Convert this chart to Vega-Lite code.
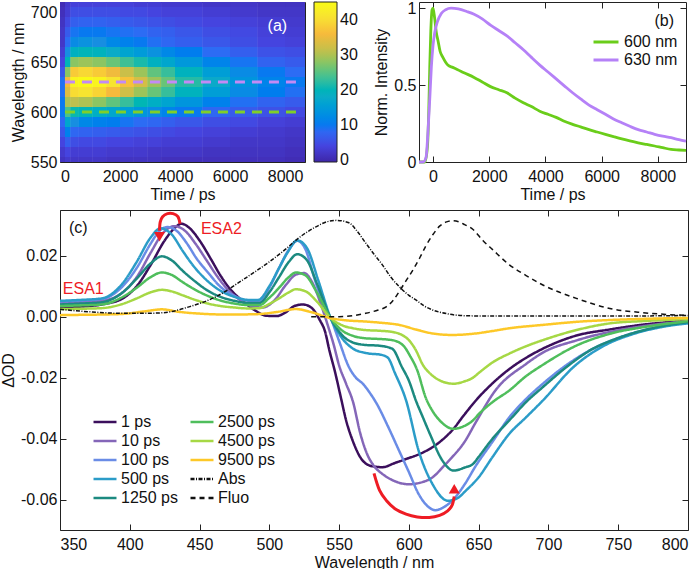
{
"$schema": "https://vega.github.io/schema/vega-lite/v6.json",
"padding": {"left": 0, "top": -1, "right": 2, "bottom": 2},
"background": "white",
"config": {
 "font": "Liberation Sans",
 "view": {"stroke": "#222", "strokeWidth": 1},
 "axis": {"domain": false, "grid": false, "tickSize": -6, "tickColor": "#222", "tickWidth": 1, "labelFont": "Liberation Sans", "labelFontSize": 16, "labelColor": "#111", "titleFont": "Liberation Sans", "titleFontSize": 16, "titleFontWeight": "normal", "titleColor": "#111"},
 "axisX": {"labelPadding": 12},
 "axisY": {"labelPadding": 9},
 "legend": {"labelFont": "Liberation Sans", "labelFontSize": 16, "labelColor": "#111"},
 "text": {"font": "Liberation Sans"}
},
"resolve": {"scale": {"color": "independent", "fill": "independent", "strokeDash": "independent", "shape": "independent"}, "legend": {"color": "independent", "fill": "independent", "strokeDash": "independent", "shape": "independent"}},
"spacing": 3,
"vconcat": [
 {"hconcat": [
  {"width": 245, "height": 160,
   "data": {"values": [
{"t0":-180,"t1":0,"w0":550,"w1":555,"v":1.5},{"t0":0,"t1":200,"w0":550,"w1":555,"v":2.5},{"t0":200,"t1":500,"w0":550,"w1":555,"v":2},{"t0":500,"t1":1000,"w0":550,"w1":555,"v":2},{"t0":1000,"t1":1500,"w0":550,"w1":555,"v":2},{"t0":1500,"t1":2000,"w0":550,"w1":555,"v":1.5},{"t0":2000,"t1":2500,"w0":550,"w1":555,"v":1.5},{"t0":2500,"t1":3000,"w0":550,"w1":555,"v":1.5},{"t0":3000,"t1":3500,"w0":550,"w1":555,"v":1.5},{"t0":3500,"t1":4000,"w0":550,"w1":555,"v":1},{"t0":4000,"t1":5000,"w0":550,"w1":555,"v":1},{"t0":5000,"t1":6000,"w0":550,"w1":555,"v":1},{"t0":6000,"t1":7000,"w0":550,"w1":555,"v":1},{"t0":7000,"t1":8000,"w0":550,"w1":555,"v":1},{"t0":8000,"t1":8725,"w0":550,"w1":555,"v":0.5},
{"t0":-180,"t1":0,"w0":555,"w1":565,"v":2.5},{"t0":0,"t1":200,"w0":555,"w1":565,"v":4},{"t0":200,"t1":500,"w0":555,"w1":565,"v":3},{"t0":500,"t1":1000,"w0":555,"w1":565,"v":3},{"t0":1000,"t1":1500,"w0":555,"w1":565,"v":3},{"t0":1500,"t1":2000,"w0":555,"w1":565,"v":2.5},{"t0":2000,"t1":2500,"w0":555,"w1":565,"v":2.5},{"t0":2500,"t1":3000,"w0":555,"w1":565,"v":2.5},{"t0":3000,"t1":3500,"w0":555,"w1":565,"v":2},{"t0":3500,"t1":4000,"w0":555,"w1":565,"v":2},{"t0":4000,"t1":5000,"w0":555,"w1":565,"v":2},{"t0":5000,"t1":6000,"w0":555,"w1":565,"v":1.5},{"t0":6000,"t1":7000,"w0":555,"w1":565,"v":1.5},{"t0":7000,"t1":8000,"w0":555,"w1":565,"v":1.5},{"t0":8000,"t1":8725,"w0":555,"w1":565,"v":1},
{"t0":-180,"t1":0,"w0":565,"w1":575,"v":4},{"t0":0,"t1":200,"w0":565,"w1":575,"v":7},{"t0":200,"t1":500,"w0":565,"w1":575,"v":5},{"t0":500,"t1":1000,"w0":565,"w1":575,"v":4.5},{"t0":1000,"t1":1500,"w0":565,"w1":575,"v":4.5},{"t0":1500,"t1":2000,"w0":565,"w1":575,"v":4},{"t0":2000,"t1":2500,"w0":565,"w1":575,"v":4},{"t0":2500,"t1":3000,"w0":565,"w1":575,"v":3.5},{"t0":3000,"t1":3500,"w0":565,"w1":575,"v":3.5},{"t0":3500,"t1":4000,"w0":565,"w1":575,"v":3},{"t0":4000,"t1":5000,"w0":565,"w1":575,"v":3},{"t0":5000,"t1":6000,"w0":565,"w1":575,"v":2.5},{"t0":6000,"t1":7000,"w0":565,"w1":575,"v":2},{"t0":7000,"t1":8000,"w0":565,"w1":575,"v":2},{"t0":8000,"t1":8725,"w0":565,"w1":575,"v":1.5},
{"t0":-180,"t1":0,"w0":575,"w1":585,"v":6},{"t0":0,"t1":200,"w0":575,"w1":585,"v":11},{"t0":200,"t1":500,"w0":575,"w1":585,"v":8},{"t0":500,"t1":1000,"w0":575,"w1":585,"v":7.5},{"t0":1000,"t1":1500,"w0":575,"w1":585,"v":7},{"t0":1500,"t1":2000,"w0":575,"w1":585,"v":6.5},{"t0":2000,"t1":2500,"w0":575,"w1":585,"v":6},{"t0":2500,"t1":3000,"w0":575,"w1":585,"v":5.5},{"t0":3000,"t1":3500,"w0":575,"w1":585,"v":5},{"t0":3500,"t1":4000,"w0":575,"w1":585,"v":4.5},{"t0":4000,"t1":5000,"w0":575,"w1":585,"v":4},{"t0":5000,"t1":6000,"w0":575,"w1":585,"v":3.5},{"t0":6000,"t1":7000,"w0":575,"w1":585,"v":3},{"t0":7000,"t1":8000,"w0":575,"w1":585,"v":2.5},{"t0":8000,"t1":8725,"w0":575,"w1":585,"v":2},
{"t0":-180,"t1":0,"w0":585,"w1":595,"v":8},{"t0":0,"t1":200,"w0":585,"w1":595,"v":17},{"t0":200,"t1":500,"w0":585,"w1":595,"v":13},{"t0":500,"t1":1000,"w0":585,"w1":595,"v":12},{"t0":1000,"t1":1500,"w0":585,"w1":595,"v":11},{"t0":1500,"t1":2000,"w0":585,"w1":595,"v":10.5},{"t0":2000,"t1":2500,"w0":585,"w1":595,"v":9.5},{"t0":2500,"t1":3000,"w0":585,"w1":595,"v":8.5},{"t0":3000,"t1":3500,"w0":585,"w1":595,"v":8},{"t0":3500,"t1":4000,"w0":585,"w1":595,"v":7},{"t0":4000,"t1":5000,"w0":585,"w1":595,"v":6},{"t0":5000,"t1":6000,"w0":585,"w1":595,"v":5},{"t0":6000,"t1":7000,"w0":585,"w1":595,"v":4.5},{"t0":7000,"t1":8000,"w0":585,"w1":595,"v":3.5},{"t0":8000,"t1":8725,"w0":585,"w1":595,"v":3},
{"t0":-180,"t1":0,"w0":595,"w1":605,"v":10},{"t0":0,"t1":200,"w0":595,"w1":605,"v":24},{"t0":200,"t1":500,"w0":595,"w1":605,"v":21},{"t0":500,"t1":1000,"w0":595,"w1":605,"v":20},{"t0":1000,"t1":1500,"w0":595,"w1":605,"v":18.5},{"t0":1500,"t1":2000,"w0":595,"w1":605,"v":17},{"t0":2000,"t1":2500,"w0":595,"w1":605,"v":15.5},{"t0":2500,"t1":3000,"w0":595,"w1":605,"v":14},{"t0":3000,"t1":3500,"w0":595,"w1":605,"v":12.5},{"t0":3500,"t1":4000,"w0":595,"w1":605,"v":11.5},{"t0":4000,"t1":5000,"w0":595,"w1":605,"v":10},{"t0":5000,"t1":6000,"w0":595,"w1":605,"v":8},{"t0":6000,"t1":7000,"w0":595,"w1":605,"v":6.5},{"t0":7000,"t1":8000,"w0":595,"w1":605,"v":5.5},{"t0":8000,"t1":8725,"w0":595,"w1":605,"v":4.5},
{"t0":-180,"t1":0,"w0":605,"w1":615,"v":10},{"t0":0,"t1":200,"w0":605,"w1":615,"v":30},{"t0":200,"t1":500,"w0":605,"w1":615,"v":31},{"t0":500,"t1":1000,"w0":605,"w1":615,"v":30},{"t0":1000,"t1":1500,"w0":605,"w1":615,"v":28},{"t0":1500,"t1":2000,"w0":605,"w1":615,"v":25.5},{"t0":2000,"t1":2500,"w0":605,"w1":615,"v":23},{"t0":2500,"t1":3000,"w0":605,"w1":615,"v":20.5},{"t0":3000,"t1":3500,"w0":605,"w1":615,"v":18.5},{"t0":3500,"t1":4000,"w0":605,"w1":615,"v":16.5},{"t0":4000,"t1":5000,"w0":605,"w1":615,"v":14},{"t0":5000,"t1":6000,"w0":605,"w1":615,"v":11},{"t0":6000,"t1":7000,"w0":605,"w1":615,"v":9},{"t0":7000,"t1":8000,"w0":605,"w1":615,"v":7.5},{"t0":8000,"t1":8725,"w0":605,"w1":615,"v":6.5},
{"t0":-180,"t1":0,"w0":615,"w1":625,"v":9},{"t0":0,"t1":200,"w0":615,"w1":625,"v":34},{"t0":200,"t1":500,"w0":615,"w1":625,"v":40},{"t0":500,"t1":1000,"w0":615,"w1":625,"v":41},{"t0":1000,"t1":1500,"w0":615,"w1":625,"v":39},{"t0":1500,"t1":2000,"w0":615,"w1":625,"v":36},{"t0":2000,"t1":2500,"w0":615,"w1":625,"v":32.5},{"t0":2500,"t1":3000,"w0":615,"w1":625,"v":29},{"t0":3000,"t1":3500,"w0":615,"w1":625,"v":26},{"t0":3500,"t1":4000,"w0":615,"w1":625,"v":23},{"t0":4000,"t1":5000,"w0":615,"w1":625,"v":19.5},{"t0":5000,"t1":6000,"w0":615,"w1":625,"v":15.5},{"t0":6000,"t1":7000,"w0":615,"w1":625,"v":12.5},{"t0":7000,"t1":8000,"w0":615,"w1":625,"v":10.5},{"t0":8000,"t1":8725,"w0":615,"w1":625,"v":9},
{"t0":-180,"t1":0,"w0":625,"w1":635,"v":9},{"t0":0,"t1":200,"w0":625,"w1":635,"v":36},{"t0":200,"t1":500,"w0":625,"w1":635,"v":44},{"t0":500,"t1":1000,"w0":625,"w1":635,"v":45},{"t0":1000,"t1":1500,"w0":625,"w1":635,"v":44},{"t0":1500,"t1":2000,"w0":625,"w1":635,"v":41},{"t0":2000,"t1":2500,"w0":625,"w1":635,"v":37},{"t0":2500,"t1":3000,"w0":625,"w1":635,"v":33},{"t0":3000,"t1":3500,"w0":625,"w1":635,"v":29},{"t0":3500,"t1":4000,"w0":625,"w1":635,"v":26},{"t0":4000,"t1":5000,"w0":625,"w1":635,"v":22},{"t0":5000,"t1":6000,"w0":625,"w1":635,"v":17.5},{"t0":6000,"t1":7000,"w0":625,"w1":635,"v":14},{"t0":7000,"t1":8000,"w0":625,"w1":635,"v":11.5},{"t0":8000,"t1":8725,"w0":625,"w1":635,"v":10},
{"t0":-180,"t1":0,"w0":635,"w1":645,"v":6},{"t0":0,"t1":200,"w0":635,"w1":645,"v":28},{"t0":200,"t1":500,"w0":635,"w1":645,"v":38},{"t0":500,"t1":1000,"w0":635,"w1":645,"v":39.5},{"t0":1000,"t1":1500,"w0":635,"w1":645,"v":38},{"t0":1500,"t1":2000,"w0":635,"w1":645,"v":35.5},{"t0":2000,"t1":2500,"w0":635,"w1":645,"v":32},{"t0":2500,"t1":3000,"w0":635,"w1":645,"v":29},{"t0":3000,"t1":3500,"w0":635,"w1":645,"v":25.5},{"t0":3500,"t1":4000,"w0":635,"w1":645,"v":23},{"t0":4000,"t1":5000,"w0":635,"w1":645,"v":19.5},{"t0":5000,"t1":6000,"w0":635,"w1":645,"v":15.5},{"t0":6000,"t1":7000,"w0":635,"w1":645,"v":12.5},{"t0":7000,"t1":8000,"w0":635,"w1":645,"v":10},{"t0":8000,"t1":8725,"w0":635,"w1":645,"v":8.5},
{"t0":-180,"t1":0,"w0":645,"w1":655,"v":4},{"t0":0,"t1":200,"w0":645,"w1":655,"v":20},{"t0":200,"t1":500,"w0":645,"w1":655,"v":28},{"t0":500,"t1":1000,"w0":645,"w1":655,"v":29},{"t0":1000,"t1":1500,"w0":645,"w1":655,"v":28},{"t0":1500,"t1":2000,"w0":645,"w1":655,"v":26},{"t0":2000,"t1":2500,"w0":645,"w1":655,"v":23.5},{"t0":2500,"t1":3000,"w0":645,"w1":655,"v":21.5},{"t0":3000,"t1":3500,"w0":645,"w1":655,"v":19},{"t0":3500,"t1":4000,"w0":645,"w1":655,"v":17},{"t0":4000,"t1":5000,"w0":645,"w1":655,"v":14.5},{"t0":5000,"t1":6000,"w0":645,"w1":655,"v":11.5},{"t0":6000,"t1":7000,"w0":645,"w1":655,"v":9.5},{"t0":7000,"t1":8000,"w0":645,"w1":655,"v":7.5},{"t0":8000,"t1":8725,"w0":645,"w1":655,"v":6.5},
{"t0":-180,"t1":0,"w0":655,"w1":665,"v":3},{"t0":0,"t1":200,"w0":655,"w1":665,"v":13},{"t0":200,"t1":500,"w0":655,"w1":665,"v":19},{"t0":500,"t1":1000,"w0":655,"w1":665,"v":20},{"t0":1000,"t1":1500,"w0":655,"w1":665,"v":19.5},{"t0":1500,"t1":2000,"w0":655,"w1":665,"v":18},{"t0":2000,"t1":2500,"w0":655,"w1":665,"v":16.5},{"t0":2500,"t1":3000,"w0":655,"w1":665,"v":15},{"t0":3000,"t1":3500,"w0":655,"w1":665,"v":13.5},{"t0":3500,"t1":4000,"w0":655,"w1":665,"v":12},{"t0":4000,"t1":5000,"w0":655,"w1":665,"v":10.5},{"t0":5000,"t1":6000,"w0":655,"w1":665,"v":8.5},{"t0":6000,"t1":7000,"w0":655,"w1":665,"v":7},{"t0":7000,"t1":8000,"w0":655,"w1":665,"v":5.5},{"t0":8000,"t1":8725,"w0":655,"w1":665,"v":5},
{"t0":-180,"t1":0,"w0":665,"w1":675,"v":2},{"t0":0,"t1":200,"w0":665,"w1":675,"v":8.5},{"t0":200,"t1":500,"w0":665,"w1":675,"v":12.5},{"t0":500,"t1":1000,"w0":665,"w1":675,"v":13.5},{"t0":1000,"t1":1500,"w0":665,"w1":675,"v":13},{"t0":1500,"t1":2000,"w0":665,"w1":675,"v":12},{"t0":2000,"t1":2500,"w0":665,"w1":675,"v":11},{"t0":2500,"t1":3000,"w0":665,"w1":675,"v":10},{"t0":3000,"t1":3500,"w0":665,"w1":675,"v":9},{"t0":3500,"t1":4000,"w0":665,"w1":675,"v":8},{"t0":4000,"t1":5000,"w0":665,"w1":675,"v":7},{"t0":5000,"t1":6000,"w0":665,"w1":675,"v":6},{"t0":6000,"t1":7000,"w0":665,"w1":675,"v":5},{"t0":7000,"t1":8000,"w0":665,"w1":675,"v":4},{"t0":8000,"t1":8725,"w0":665,"w1":675,"v":3.5},
{"t0":-180,"t1":0,"w0":675,"w1":685,"v":2},{"t0":0,"t1":200,"w0":675,"w1":685,"v":6.5},{"t0":200,"t1":500,"w0":675,"w1":685,"v":9.5},{"t0":500,"t1":1000,"w0":675,"w1":685,"v":10},{"t0":1000,"t1":1500,"w0":675,"w1":685,"v":10},{"t0":1500,"t1":2000,"w0":675,"w1":685,"v":9.5},{"t0":2000,"t1":2500,"w0":675,"w1":685,"v":9},{"t0":2500,"t1":3000,"w0":675,"w1":685,"v":8.5},{"t0":3000,"t1":3500,"w0":675,"w1":685,"v":7.5},{"t0":3500,"t1":4000,"w0":675,"w1":685,"v":7},{"t0":4000,"t1":5000,"w0":675,"w1":685,"v":6},{"t0":5000,"t1":6000,"w0":675,"w1":685,"v":5},{"t0":6000,"t1":7000,"w0":675,"w1":685,"v":4.5},{"t0":7000,"t1":8000,"w0":675,"w1":685,"v":3.5},{"t0":8000,"t1":8725,"w0":675,"w1":685,"v":3},
{"t0":-180,"t1":0,"w0":685,"w1":695,"v":1.5},{"t0":0,"t1":200,"w0":685,"w1":695,"v":4.5},{"t0":200,"t1":500,"w0":685,"w1":695,"v":7},{"t0":500,"t1":1000,"w0":685,"w1":695,"v":7.5},{"t0":1000,"t1":1500,"w0":685,"w1":695,"v":7.5},{"t0":1500,"t1":2000,"w0":685,"w1":695,"v":7},{"t0":2000,"t1":2500,"w0":685,"w1":695,"v":6.5},{"t0":2500,"t1":3000,"w0":685,"w1":695,"v":6},{"t0":3000,"t1":3500,"w0":685,"w1":695,"v":5.5},{"t0":3500,"t1":4000,"w0":685,"w1":695,"v":5},{"t0":4000,"t1":5000,"w0":685,"w1":695,"v":4.5},{"t0":5000,"t1":6000,"w0":685,"w1":695,"v":4},{"t0":6000,"t1":7000,"w0":685,"w1":695,"v":3.5},{"t0":7000,"t1":8000,"w0":685,"w1":695,"v":3},{"t0":8000,"t1":8725,"w0":685,"w1":695,"v":2.5},
{"t0":-180,"t1":0,"w0":695,"w1":705,"v":1},{"t0":0,"t1":200,"w0":695,"w1":705,"v":3},{"t0":200,"t1":500,"w0":695,"w1":705,"v":5},{"t0":500,"t1":1000,"w0":695,"w1":705,"v":5},{"t0":1000,"t1":1500,"w0":695,"w1":705,"v":5},{"t0":1500,"t1":2000,"w0":695,"w1":705,"v":5},{"t0":2000,"t1":2500,"w0":695,"w1":705,"v":4.5},{"t0":2500,"t1":3000,"w0":695,"w1":705,"v":4.5},{"t0":3000,"t1":3500,"w0":695,"w1":705,"v":4},{"t0":3500,"t1":4000,"w0":695,"w1":705,"v":3.5},{"t0":4000,"t1":5000,"w0":695,"w1":705,"v":3.5},{"t0":5000,"t1":6000,"w0":695,"w1":705,"v":3},{"t0":6000,"t1":7000,"w0":695,"w1":705,"v":2.5},{"t0":7000,"t1":8000,"w0":695,"w1":705,"v":2},{"t0":8000,"t1":8725,"w0":695,"w1":705,"v":2},
{"t0":-180,"t1":0,"w0":705,"w1":710,"v":0.5},{"t0":0,"t1":200,"w0":705,"w1":710,"v":2.5},{"t0":200,"t1":500,"w0":705,"w1":710,"v":3.5},{"t0":500,"t1":1000,"w0":705,"w1":710,"v":3.5},{"t0":1000,"t1":1500,"w0":705,"w1":710,"v":3.5},{"t0":1500,"t1":2000,"w0":705,"w1":710,"v":3.5},{"t0":2000,"t1":2500,"w0":705,"w1":710,"v":3.5},{"t0":2500,"t1":3000,"w0":705,"w1":710,"v":3},{"t0":3000,"t1":3500,"w0":705,"w1":710,"v":3},{"t0":3500,"t1":4000,"w0":705,"w1":710,"v":2.5},{"t0":4000,"t1":5000,"w0":705,"w1":710,"v":2.5},{"t0":5000,"t1":6000,"w0":705,"w1":710,"v":2},{"t0":6000,"t1":7000,"w0":705,"w1":710,"v":2},{"t0":7000,"t1":8000,"w0":705,"w1":710,"v":1.5},{"t0":8000,"t1":8725,"w0":705,"w1":710,"v":1.5}
   ]},
   "layer": [
    {"mark": {"type": "rect"},
     "encoding": {
      "x": {"field": "t0", "type": "quantitative", "scale": {"domain": [-180, 8725], "nice": false, "zero": false}, "axis": {"orient": "bottom", "title": "Time / ps", "values": [0, 2000, 4000, 6000, 8000], "format": "d", "titlePadding": 2}},
      "x2": {"field": "t1"},
      "y": {"field": "w0", "type": "quantitative", "scale": {"domain": [550, 710], "nice": false, "zero": false}, "axis": {"orient": "left", "title": "Wavelength / nm", "values": [550, 600, 650, 700], "titlePadding": 4}},
      "y2": {"field": "w1"},
      "fill": {"field": "v", "type": "quantitative", "scale": {"domain": [-0.6, 45.2], "nice": false, "zero": false, "range": ["#3e26a8", "#4544df", "#2c6cf4", "#1a8fe0", "#14aac8", "#2dbca2", "#78c56e", "#c5bf4c", "#f6ba3c", "#f7e232", "#f9fb14"]}, "legend": {"type": "gradient", "title": null, "orient": "right", "offset": 8, "padding": 0, "direction": "vertical", "gradientLength": 160, "gradientThickness": 23, "gradientStrokeColor": "#222", "gradientStrokeWidth": 1, "values": [0, 10, 20, 30, 40], "labelOverlap": false, "labelOffset": 3, "labelFontSize": 16}}
     }},
    {"mark": {"type": "rect"},
     "encoding": {
      "x": {"field": "t0", "type": "quantitative", "scale": {"domain": [-180, 8725], "nice": false, "zero": false}, "axis": null},
      "x2": {"field": "t1"},
      "y": {"field": "w0", "type": "quantitative", "scale": {"domain": [550, 710], "nice": false, "zero": false}, "axis": null},
      "y2": {"field": "w1"},
      "fill": {"field": "v", "type": "quantitative", "scale": {"domain": [-0.6, 45.2], "nice": false, "zero": false, "range": ["#3e26a8", "#4544df", "#2c6cf4", "#1a8fe0", "#14aac8", "#2dbca2", "#78c56e", "#c5bf4c", "#f6ba3c", "#f7e232", "#f9fb14"]}, "legend": {"type": "gradient", "title": null, "orient": "right", "offset": 8, "padding": 0, "direction": "vertical", "gradientLength": 160, "gradientThickness": 23, "gradientStrokeColor": "#222", "gradientStrokeWidth": 1, "values": [0, 10, 20, 30, 40], "labelOverlap": false, "labelOffset": 3, "labelFontSize": 16}}
     }},
    {"data": {"values": [{"t0": 0, "t1": 8450, "w": 630}]},
     "mark": {"type": "rule", "color": "#c38af5", "strokeWidth": 3, "strokeDash": [10, 7]},
     "encoding": {
      "x": {"field": "t0", "type": "quantitative", "scale": {"domain": [-180, 8725], "nice": false, "zero": false}, "axis": {"orient": "top", "labels": false, "title": null, "values": [0, 2000, 4000, 6000, 8000], "minExtent": 0, "maxExtent": 0}},
      "x2": {"field": "t1"},
      "y": {"field": "w", "type": "quantitative", "scale": {"domain": [550, 710], "nice": false, "zero": false}, "axis": {"orient": "right", "labels": false, "title": null, "values": [550, 600, 650, 700], "minExtent": 0, "maxExtent": 0}}
     }},
    {"data": {"values": [{"t0": 0, "t1": 8450, "w": 600}]},
     "mark": {"type": "rule", "color": "#7fcf2a", "strokeWidth": 3, "strokeDash": [10, 7]},
     "encoding": {
      "x": {"field": "t0", "type": "quantitative", "scale": {"domain": [-180, 8725], "nice": false, "zero": false}, "axis": null},
      "x2": {"field": "t1"},
      "y": {"field": "w", "type": "quantitative", "scale": {"domain": [550, 710], "nice": false, "zero": false}, "axis": null}
     }},
    {"data": {"values": [{"t": 7720, "w": 686, "txt": "(a)"}]},
     "mark": {"type": "text", "color": "white", "fontSize": 16, "align": "center", "baseline": "middle"},
     "encoding": {
      "x": {"field": "t", "type": "quantitative", "scale": {"domain": [-180, 8725], "nice": false, "zero": false}, "axis": null},
      "y": {"field": "w", "type": "quantitative", "scale": {"domain": [550, 710], "nice": false, "zero": false}, "axis": null},
      "text": {"field": "txt"}
     }}
   ],
   "resolve": {"axis": {"x": "independent", "y": "independent"}}
  },
  {"width": 267, "height": 160,
   "layer": [
    {"data": {"values": [
{"c":"600 nm","t":-500,"v":0},{"c":"600 nm","t":-290,"v":0},{"c":"600 nm","t":-200,"v":0.1},{"c":"600 nm","t":-150,"v":0.35},{"c":"600 nm","t":-117,"v":0.62},{"c":"600 nm","t":-80,"v":0.85},{"c":"600 nm","t":-35,"v":0.99},{"c":"600 nm","t":0,"v":1.0},{"c":"600 nm","t":60,"v":0.93},{"c":"600 nm","t":117,"v":0.84},{"c":"600 nm","t":175,"v":0.79},{"c":"600 nm","t":250,"v":0.72},{"c":"600 nm","t":350,"v":0.68},{"c":"600 nm","t":526,"v":0.63},{"c":"600 nm","t":700,"v":0.615},{"c":"600 nm","t":876,"v":0.6},{"c":"600 nm","t":1100,"v":0.58},{"c":"600 nm","t":1460,"v":0.55},{"c":"600 nm","t":1750,"v":0.52},{"c":"600 nm","t":2044,"v":0.49},{"c":"600 nm","t":2336,"v":0.47},{"c":"600 nm","t":2628,"v":0.45},{"c":"600 nm","t":2920,"v":0.415},{"c":"600 nm","t":3213,"v":0.385},{"c":"600 nm","t":3500,"v":0.36},{"c":"600 nm","t":3797,"v":0.33},{"c":"600 nm","t":4090,"v":0.31},{"c":"600 nm","t":4380,"v":0.29},{"c":"600 nm","t":4670,"v":0.265},{"c":"600 nm","t":4965,"v":0.245},{"c":"600 nm","t":5250,"v":0.228},{"c":"600 nm","t":5550,"v":0.21},{"c":"600 nm","t":5840,"v":0.195},{"c":"600 nm","t":6133,"v":0.18},{"c":"600 nm","t":6420,"v":0.165},{"c":"600 nm","t":6717,"v":0.15},{"c":"600 nm","t":7000,"v":0.137},{"c":"600 nm","t":7300,"v":0.125},{"c":"600 nm","t":7600,"v":0.114},{"c":"600 nm","t":7885,"v":0.104},{"c":"600 nm","t":8170,"v":0.093},{"c":"600 nm","t":8470,"v":0.082},{"c":"600 nm","t":8750,"v":0.078},{"c":"600 nm","t":9000,"v":0.075},
{"c":"630 nm","t":-500,"v":0},{"c":"630 nm","t":-350,"v":0},{"c":"630 nm","t":-250,"v":0.03},{"c":"630 nm","t":-180,"v":0.2},{"c":"630 nm","t":-117,"v":0.41},{"c":"630 nm","t":-60,"v":0.62},{"c":"630 nm","t":0,"v":0.76},{"c":"630 nm","t":58,"v":0.84},{"c":"630 nm","t":150,"v":0.91},{"c":"630 nm","t":292,"v":0.965},{"c":"630 nm","t":450,"v":0.99},{"c":"630 nm","t":640,"v":1.0},{"c":"630 nm","t":900,"v":0.995},{"c":"630 nm","t":1200,"v":0.978},{"c":"630 nm","t":1460,"v":0.96},{"c":"630 nm","t":1750,"v":0.93},{"c":"630 nm","t":2044,"v":0.89},{"c":"630 nm","t":2336,"v":0.855},{"c":"630 nm","t":2628,"v":0.82},{"c":"630 nm","t":2920,"v":0.775},{"c":"630 nm","t":3213,"v":0.73},{"c":"630 nm","t":3500,"v":0.68},{"c":"630 nm","t":3797,"v":0.63},{"c":"630 nm","t":4090,"v":0.585},{"c":"630 nm","t":4380,"v":0.54},{"c":"630 nm","t":4670,"v":0.495},{"c":"630 nm","t":4965,"v":0.45},{"c":"630 nm","t":5250,"v":0.41},{"c":"630 nm","t":5550,"v":0.37},{"c":"630 nm","t":5840,"v":0.34},{"c":"630 nm","t":6133,"v":0.31},{"c":"630 nm","t":6420,"v":0.28},{"c":"630 nm","t":6717,"v":0.255},{"c":"630 nm","t":7000,"v":0.232},{"c":"630 nm","t":7300,"v":0.21},{"c":"630 nm","t":7600,"v":0.195},{"c":"630 nm","t":7885,"v":0.18},{"c":"630 nm","t":8170,"v":0.168},{"c":"630 nm","t":8470,"v":0.158},{"c":"630 nm","t":8750,"v":0.145},{"c":"630 nm","t":9000,"v":0.135}
    ]},
     "mark": {"type": "line", "strokeWidth": 2.8, "interpolate": "monotone"},
     "encoding": {
      "x": {"field": "t", "type": "quantitative", "scale": {"domain": [-500, 9000], "nice": false, "zero": false}, "axis": {"orient": "bottom", "title": "Time / ps", "values": [0, 2000, 4000, 6000, 8000], "format": "d", "titlePadding": 2}},
      "y": {"field": "v", "type": "quantitative", "scale": {"domain": [0, 1.04], "nice": false, "zero": false}, "axis": {"orient": "left", "title": "Norm. Intensity", "values": [0, 0.5, 1], "format": "~g", "titlePadding": 4}},
      "color": {"field": "c", "type": "nominal", "scale": {"domain": ["600 nm", "630 nm"], "range": ["#6acd1a", "#b581f7"]}, "legend": {"title": null, "orient": "none", "legendX": 179, "legendY": 32, "symbolType": "M-2,0L2,0", "symbolStrokeWidth": 3, "symbolSize": 156, "labelFontSize": 16, "rowPadding": 2, "labelOffset": 10, "padding": 0}}
     }},
    {"data": {"values": [{"t": 8573, "v": 0.916, "txt": "(b)"}]},
     "mark": {"type": "text", "fontSize": 16, "align": "right", "baseline": "middle", "color": "#111"},
     "encoding": {
      "x": {"field": "t", "type": "quantitative", "scale": {"domain": [-500, 9000], "nice": false, "zero": false}, "axis": {"orient": "top", "labels": false, "title": null, "values": [0, 2000, 4000, 6000, 8000], "minExtent": 0, "maxExtent": 0}},
      "y": {"field": "v", "type": "quantitative", "scale": {"domain": [0, 1.04], "nice": false, "zero": false}, "axis": {"orient": "right", "labels": false, "title": null, "values": [0, 0.5, 1], "minExtent": 0, "maxExtent": 0}},
      "text": {"field": "txt"}
     }}
   ],
   "resolve": {"axis": {"x": "independent", "y": "independent"}}
  }
 ], "spacing": 14,
 "resolve": {"scale": {"color": "independent", "fill": "independent"}, "legend": {"color": "independent", "fill": "independent"}}},
 {"width": 628, "height": 320,
  "layer": [
   {"data": {"values": [
{"s":"1 ps","x":350,"y":0.003},{"s":"1 ps","x":365,"y":0.0033},{"s":"1 ps","x":380,"y":0.004},{"s":"1 ps","x":395,"y":0.006},{"s":"1 ps","x":405,"y":0.01},{"s":"1 ps","x":415,"y":0.017},{"s":"1 ps","x":425,"y":0.025},{"s":"1 ps","x":432,"y":0.029},{"s":"1 ps","x":437,"y":0.0305},{"s":"1 ps","x":443,"y":0.029},{"s":"1 ps","x":450,"y":0.025},{"s":"1 ps","x":458,"y":0.019},{"s":"1 ps","x":465,"y":0.0135},{"s":"1 ps","x":472,"y":0.009},{"s":"1 ps","x":480,"y":0.0055},{"s":"1 ps","x":490,"y":0.002},{"s":"1 ps","x":498,"y":0.0003},{"s":"1 ps","x":505,"y":0.0002},{"s":"1 ps","x":512,"y":0.0015},{"s":"1 ps","x":518,"y":0.0035},{"s":"1 ps","x":524,"y":0.004},{"s":"1 ps","x":530,"y":0.003},{"s":"1 ps","x":536,"y":-0.001},{"s":"1 ps","x":540,"y":-0.005},{"s":"1 ps","x":543,"y":-0.011},{"s":"1 ps","x":547,"y":-0.018},{"s":"1 ps","x":551,"y":-0.026},{"s":"1 ps","x":555,"y":-0.034},{"s":"1 ps","x":560,"y":-0.041},{"s":"1 ps","x":565,"y":-0.046},{"s":"1 ps","x":573,"y":-0.049},{"s":"1 ps","x":581,"y":-0.0494},{"s":"1 ps","x":590,"y":-0.048},{"s":"1 ps","x":598,"y":-0.0467},{"s":"1 ps","x":608,"y":-0.045},{"s":"1 ps","x":617,"y":-0.0428},{"s":"1 ps","x":625,"y":-0.04},{"s":"1 ps","x":631,"y":-0.0373},{"s":"1 ps","x":640,"y":-0.032},{"s":"1 ps","x":648,"y":-0.0275},{"s":"1 ps","x":662,"y":-0.021},{"s":"1 ps","x":674,"y":-0.0165},{"s":"1 ps","x":684,"y":-0.0135},{"s":"1 ps","x":696,"y":-0.0105},{"s":"1 ps","x":720,"y":-0.0062},{"s":"1 ps","x":744,"y":-0.0042},{"s":"1 ps","x":770,"y":-0.0025},{"s":"1 ps","x":800,"y":-0.0013},
{"s":"10 ps","x":350,"y":0.0045},{"s":"10 ps","x":365,"y":0.0048},{"s":"10 ps","x":380,"y":0.0052},{"s":"10 ps","x":395,"y":0.008},{"s":"10 ps","x":405,"y":0.013},{"s":"10 ps","x":415,"y":0.021},{"s":"10 ps","x":423,"y":0.027},{"s":"10 ps","x":432,"y":0.0297},{"s":"10 ps","x":440,"y":0.028},{"s":"10 ps","x":447,"y":0.024},{"s":"10 ps","x":455,"y":0.0185},{"s":"10 ps","x":463,"y":0.013},{"s":"10 ps","x":470,"y":0.009},{"s":"10 ps","x":478,"y":0.0058},{"s":"10 ps","x":487,"y":0.0035},{"s":"10 ps","x":495,"y":0.003},{"s":"10 ps","x":503,"y":0.005},{"s":"10 ps","x":512,"y":0.0105},{"s":"10 ps","x":519,"y":0.0138},{"s":"10 ps","x":525,"y":0.0143},{"s":"10 ps","x":531,"y":0.011},{"s":"10 ps","x":537,"y":0.004},{"s":"10 ps","x":542,"y":-0.003},{"s":"10 ps","x":546,"y":-0.009},{"s":"10 ps","x":550,"y":-0.016},{"s":"10 ps","x":555,"y":-0.022},{"s":"10 ps","x":560,"y":-0.028},{"s":"10 ps","x":565,"y":-0.038},{"s":"10 ps","x":570,"y":-0.045},{"s":"10 ps","x":575,"y":-0.049},{"s":"10 ps","x":581,"y":-0.0516},{"s":"10 ps","x":590,"y":-0.054},{"s":"10 ps","x":600,"y":-0.055},{"s":"10 ps","x":608,"y":-0.0545},{"s":"10 ps","x":617,"y":-0.0527},{"s":"10 ps","x":625,"y":-0.049},{"s":"10 ps","x":631,"y":-0.0461},{"s":"10 ps","x":640,"y":-0.041},{"s":"10 ps","x":648,"y":-0.0346},{"s":"10 ps","x":662,"y":-0.0242},{"s":"10 ps","x":684,"y":-0.0155},{"s":"10 ps","x":696,"y":-0.0118},{"s":"10 ps","x":720,"y":-0.0078},{"s":"10 ps","x":744,"y":-0.005},{"s":"10 ps","x":770,"y":-0.003},{"s":"10 ps","x":800,"y":-0.0015},
{"s":"100 ps","x":350,"y":0.005},{"s":"100 ps","x":365,"y":0.0053},{"s":"100 ps","x":380,"y":0.0058},{"s":"100 ps","x":395,"y":0.01},{"s":"100 ps","x":405,"y":0.016},{"s":"100 ps","x":415,"y":0.024},{"s":"100 ps","x":421,"y":0.028},{"s":"100 ps","x":427,"y":0.0294},{"s":"100 ps","x":434,"y":0.028},{"s":"100 ps","x":441,"y":0.024},{"s":"100 ps","x":448,"y":0.019},{"s":"100 ps","x":456,"y":0.0145},{"s":"100 ps","x":465,"y":0.0098},{"s":"100 ps","x":475,"y":0.0068},{"s":"100 ps","x":485,"y":0.0052},{"s":"100 ps","x":492,"y":0.005},{"s":"100 ps","x":500,"y":0.0095},{"s":"100 ps","x":507,"y":0.016},{"s":"100 ps","x":514,"y":0.022},{"s":"100 ps","x":520,"y":0.0249},{"s":"100 ps","x":526,"y":0.022},{"s":"100 ps","x":532,"y":0.013},{"s":"100 ps","x":538,"y":0.005},{"s":"100 ps","x":544,"y":-0.0005},{"s":"100 ps","x":550,"y":-0.008},{"s":"100 ps","x":557,"y":-0.0165},{"s":"100 ps","x":562,"y":-0.02},{"s":"100 ps","x":567,"y":-0.022},{"s":"100 ps","x":572,"y":-0.025},{"s":"100 ps","x":577,"y":-0.0286},{"s":"100 ps","x":585,"y":-0.036},{"s":"100 ps","x":593,"y":-0.044},{"s":"100 ps","x":600,"y":-0.051},{"s":"100 ps","x":607,"y":-0.0582},{"s":"100 ps","x":613,"y":-0.062},{"s":"100 ps","x":619,"y":-0.0635},{"s":"100 ps","x":625,"y":-0.0625},{"s":"100 ps","x":631,"y":-0.0604},{"s":"100 ps","x":640,"y":-0.055},{"s":"100 ps","x":648,"y":-0.0489},{"s":"100 ps","x":660,"y":-0.041},{"s":"100 ps","x":672,"y":-0.033},{"s":"100 ps","x":684,"y":-0.027},{"s":"100 ps","x":696,"y":-0.022},{"s":"100 ps","x":711,"y":-0.0165},{"s":"100 ps","x":730,"y":-0.011},{"s":"100 ps","x":750,"y":-0.007},{"s":"100 ps","x":775,"y":-0.0038},{"s":"100 ps","x":800,"y":-0.0018},
{"s":"500 ps","x":350,"y":0.0052},{"s":"500 ps","x":365,"y":0.0055},{"s":"500 ps","x":380,"y":0.006},{"s":"500 ps","x":395,"y":0.011},{"s":"500 ps","x":405,"y":0.018},{"s":"500 ps","x":415,"y":0.026},{"s":"500 ps","x":422,"y":0.029},{"s":"500 ps","x":430,"y":0.027},{"s":"500 ps","x":438,"y":0.0215},{"s":"500 ps","x":445,"y":0.017},{"s":"500 ps","x":455,"y":0.012},{"s":"500 ps","x":465,"y":0.0085},{"s":"500 ps","x":475,"y":0.0065},{"s":"500 ps","x":485,"y":0.0055},{"s":"500 ps","x":492,"y":0.0055},{"s":"500 ps","x":500,"y":0.01},{"s":"500 ps","x":507,"y":0.016},{"s":"500 ps","x":513,"y":0.021},{"s":"500 ps","x":520,"y":0.025},{"s":"500 ps","x":527,"y":0.0225},{"s":"500 ps","x":535,"y":0.012},{"s":"500 ps","x":544,"y":-0.0005},{"s":"500 ps","x":552,"y":-0.007},{"s":"500 ps","x":560,"y":-0.0105},{"s":"500 ps","x":570,"y":-0.012},{"s":"500 ps","x":580,"y":-0.0125},{"s":"500 ps","x":585,"y":-0.0135},{"s":"500 ps","x":590,"y":-0.0185},{"s":"500 ps","x":598,"y":-0.0275},{"s":"500 ps","x":607,"y":-0.044},{"s":"500 ps","x":617,"y":-0.055},{"s":"500 ps","x":628,"y":-0.0604},{"s":"500 ps","x":635,"y":-0.0595},{"s":"500 ps","x":641,"y":-0.057},{"s":"500 ps","x":650,"y":-0.0527},{"s":"500 ps","x":660,"y":-0.046},{"s":"500 ps","x":672,"y":-0.0384},{"s":"500 ps","x":684,"y":-0.033},{"s":"500 ps","x":696,"y":-0.0275},{"s":"500 ps","x":718,"y":-0.0165},{"s":"500 ps","x":740,"y":-0.0095},{"s":"500 ps","x":760,"y":-0.0058},{"s":"500 ps","x":780,"y":-0.0035},{"s":"500 ps","x":800,"y":-0.0022},
{"s":"1250 ps","x":350,"y":0.004},{"s":"1250 ps","x":365,"y":0.0043},{"s":"1250 ps","x":380,"y":0.0047},{"s":"1250 ps","x":395,"y":0.008},{"s":"1250 ps","x":405,"y":0.0125},{"s":"1250 ps","x":415,"y":0.0175},{"s":"1250 ps","x":423,"y":0.0198},{"s":"1250 ps","x":430,"y":0.0185},{"s":"1250 ps","x":438,"y":0.015},{"s":"1250 ps","x":447,"y":0.0115},{"s":"1250 ps","x":456,"y":0.0085},{"s":"1250 ps","x":465,"y":0.0065},{"s":"1250 ps","x":475,"y":0.0052},{"s":"1250 ps","x":485,"y":0.0045},{"s":"1250 ps","x":493,"y":0.0045},{"s":"1250 ps","x":500,"y":0.008},{"s":"1250 ps","x":507,"y":0.013},{"s":"1250 ps","x":514,"y":0.018},{"s":"1250 ps","x":520,"y":0.0205},{"s":"1250 ps","x":527,"y":0.0185},{"s":"1250 ps","x":534,"y":0.011},{"s":"1250 ps","x":544,"y":-0.0005},{"s":"1250 ps","x":552,"y":-0.006},{"s":"1250 ps","x":560,"y":-0.0085},{"s":"1250 ps","x":569,"y":-0.0093},{"s":"1250 ps","x":578,"y":-0.0095},{"s":"1250 ps","x":588,"y":-0.0105},{"s":"1250 ps","x":595,"y":-0.0165},{"s":"1250 ps","x":600,"y":-0.021},{"s":"1250 ps","x":605,"y":-0.0275},{"s":"1250 ps","x":610,"y":-0.033},{"s":"1250 ps","x":615,"y":-0.0384},{"s":"1250 ps","x":624,"y":-0.0472},{"s":"1250 ps","x":632,"y":-0.0505},{"s":"1250 ps","x":640,"y":-0.0495},{"s":"1250 ps","x":646,"y":-0.0483},{"s":"1250 ps","x":650,"y":-0.046},{"s":"1250 ps","x":660,"y":-0.04},{"s":"1250 ps","x":672,"y":-0.034},{"s":"1250 ps","x":684,"y":-0.028},{"s":"1250 ps","x":696,"y":-0.0231},{"s":"1250 ps","x":713,"y":-0.0165},{"s":"1250 ps","x":730,"y":-0.011},{"s":"1250 ps","x":750,"y":-0.007},{"s":"1250 ps","x":775,"y":-0.0037},{"s":"1250 ps","x":800,"y":-0.0018},
{"s":"2500 ps","x":350,"y":0.0035},{"s":"2500 ps","x":365,"y":0.0037},{"s":"2500 ps","x":380,"y":0.004},{"s":"2500 ps","x":395,"y":0.0065},{"s":"2500 ps","x":405,"y":0.0095},{"s":"2500 ps","x":415,"y":0.013},{"s":"2500 ps","x":423,"y":0.0145},{"s":"2500 ps","x":430,"y":0.0137},{"s":"2500 ps","x":438,"y":0.0113},{"s":"2500 ps","x":447,"y":0.0088},{"s":"2500 ps","x":456,"y":0.0068},{"s":"2500 ps","x":465,"y":0.0053},{"s":"2500 ps","x":475,"y":0.0043},{"s":"2500 ps","x":485,"y":0.0038},{"s":"2500 ps","x":493,"y":0.0038},{"s":"2500 ps","x":500,"y":0.0062},{"s":"2500 ps","x":507,"y":0.0095},{"s":"2500 ps","x":514,"y":0.013},{"s":"2500 ps","x":519,"y":0.0145},{"s":"2500 ps","x":526,"y":0.0135},{"s":"2500 ps","x":534,"y":0.008},{"s":"2500 ps","x":544,"y":-0.0005},{"s":"2500 ps","x":552,"y":-0.0045},{"s":"2500 ps","x":560,"y":-0.0063},{"s":"2500 ps","x":569,"y":-0.0071},{"s":"2500 ps","x":578,"y":-0.0073},{"s":"2500 ps","x":588,"y":-0.0077},{"s":"2500 ps","x":596,"y":-0.0095},{"s":"2500 ps","x":601,"y":-0.013},{"s":"2500 ps","x":606,"y":-0.0176},{"s":"2500 ps","x":612,"y":-0.0265},{"s":"2500 ps","x":617,"y":-0.031},{"s":"2500 ps","x":622,"y":-0.034},{"s":"2500 ps","x":632,"y":-0.0368},{"s":"2500 ps","x":640,"y":-0.0358},{"s":"2500 ps","x":646,"y":-0.034},{"s":"2500 ps","x":650,"y":-0.032},{"s":"2500 ps","x":660,"y":-0.028},{"s":"2500 ps","x":672,"y":-0.0242},{"s":"2500 ps","x":684,"y":-0.0195},{"s":"2500 ps","x":696,"y":-0.0158},{"s":"2500 ps","x":720,"y":-0.0095},{"s":"2500 ps","x":745,"y":-0.0055},{"s":"2500 ps","x":770,"y":-0.0033},{"s":"2500 ps","x":800,"y":-0.0015},
{"s":"4500 ps","x":350,"y":0.0025},{"s":"4500 ps","x":365,"y":0.0026},{"s":"4500 ps","x":380,"y":0.0028},{"s":"4500 ps","x":395,"y":0.0042},{"s":"4500 ps","x":405,"y":0.006},{"s":"4500 ps","x":415,"y":0.008},{"s":"4500 ps","x":423,"y":0.0088},{"s":"4500 ps","x":430,"y":0.0083},{"s":"4500 ps","x":438,"y":0.007},{"s":"4500 ps","x":447,"y":0.0055},{"s":"4500 ps","x":456,"y":0.0043},{"s":"4500 ps","x":465,"y":0.0035},{"s":"4500 ps","x":475,"y":0.003},{"s":"4500 ps","x":485,"y":0.0027},{"s":"4500 ps","x":493,"y":0.0028},{"s":"4500 ps","x":500,"y":0.0042},{"s":"4500 ps","x":507,"y":0.006},{"s":"4500 ps","x":514,"y":0.008},{"s":"4500 ps","x":519,"y":0.009},{"s":"4500 ps","x":526,"y":0.0083},{"s":"4500 ps","x":534,"y":0.005},{"s":"4500 ps","x":544,"y":-0.0005},{"s":"4500 ps","x":552,"y":-0.0028},{"s":"4500 ps","x":560,"y":-0.0038},{"s":"4500 ps","x":569,"y":-0.0044},{"s":"4500 ps","x":578,"y":-0.0046},{"s":"4500 ps","x":588,"y":-0.005},{"s":"4500 ps","x":595,"y":-0.006},{"s":"4500 ps","x":600,"y":-0.0077},{"s":"4500 ps","x":605,"y":-0.011},{"s":"4500 ps","x":610,"y":-0.0158},{"s":"4500 ps","x":616,"y":-0.019},{"s":"4500 ps","x":622,"y":-0.0209},{"s":"4500 ps","x":632,"y":-0.022},{"s":"4500 ps","x":640,"y":-0.0212},{"s":"4500 ps","x":646,"y":-0.02},{"s":"4500 ps","x":650,"y":-0.0185},{"s":"4500 ps","x":660,"y":-0.015},{"s":"4500 ps","x":672,"y":-0.0121},{"s":"4500 ps","x":684,"y":-0.0097},{"s":"4500 ps","x":696,"y":-0.0077},{"s":"4500 ps","x":720,"y":-0.0044},{"s":"4500 ps","x":744,"y":-0.0022},{"s":"4500 ps","x":770,"y":-0.0014},{"s":"4500 ps","x":800,"y":-0.0008},
{"s":"9500 ps","x":350,"y":0.0005},{"s":"9500 ps","x":365,"y":0.0006},{"s":"9500 ps","x":380,"y":0.0007},{"s":"9500 ps","x":395,"y":0.0009},{"s":"9500 ps","x":410,"y":0.0017},{"s":"9500 ps","x":423,"y":0.0024},{"s":"9500 ps","x":435,"y":0.0016},{"s":"9500 ps","x":450,"y":0.001},{"s":"9500 ps","x":470,"y":0.0007},{"s":"9500 ps","x":490,"y":0.0008},{"s":"9500 ps","x":505,"y":0.0015},{"s":"9500 ps","x":519,"y":0.0025},{"s":"9500 ps","x":530,"y":0.0015},{"s":"9500 ps","x":544,"y":-0.0005},{"s":"9500 ps","x":555,"y":-0.0012},{"s":"9500 ps","x":569,"y":-0.0016},{"s":"9500 ps","x":580,"y":-0.002},{"s":"9500 ps","x":593,"y":-0.0027},{"s":"9500 ps","x":605,"y":-0.0042},{"s":"9500 ps","x":617,"y":-0.0055},{"s":"9500 ps","x":631,"y":-0.006},{"s":"9500 ps","x":648,"y":-0.0055},{"s":"9500 ps","x":660,"y":-0.0047},{"s":"9500 ps","x":672,"y":-0.0038},{"s":"9500 ps","x":696,"y":-0.0027},{"s":"9500 ps","x":720,"y":-0.0017},{"s":"9500 ps","x":744,"y":-0.0011},{"s":"9500 ps","x":770,"y":-0.0007},{"s":"9500 ps","x":800,"y":-0.0004},
{"s":"Abs","x":350,"y":0.0024},{"s":"Abs","x":371,"y":0.0016},{"s":"Abs","x":395,"y":0.0011},{"s":"Abs","x":410,"y":0.0011},{"s":"Abs","x":424,"y":0.0013},{"s":"Abs","x":443,"y":0.0033},{"s":"Abs","x":462,"y":0.0066},{"s":"Abs","x":481,"y":0.0121},{"s":"Abs","x":500,"y":0.018},{"s":"Abs","x":510,"y":0.0215},{"s":"Abs","x":521,"y":0.0258},{"s":"Abs","x":533,"y":0.0294},{"s":"Abs","x":541,"y":0.0311},{"s":"Abs","x":548,"y":0.0316},{"s":"Abs","x":557,"y":0.0308},{"s":"Abs","x":563,"y":0.028},{"s":"Abs","x":569,"y":0.0242},{"s":"Abs","x":575,"y":0.0205},{"s":"Abs","x":581,"y":0.017},{"s":"Abs","x":587,"y":0.013},{"s":"Abs","x":593,"y":0.0099},{"s":"Abs","x":600,"y":0.007},{"s":"Abs","x":605,"y":0.0055},{"s":"Abs","x":611,"y":0.0035},{"s":"Abs","x":617,"y":0.0022},{"s":"Abs","x":628,"y":0.0009},{"s":"Abs","x":641,"y":0.0003},{"s":"Abs","x":660,"y":0.0002},{"s":"Abs","x":700,"y":0.0002},{"s":"Abs","x":750,"y":0.0002},{"s":"Abs","x":800,"y":0.0004},
{"s":"Fluo","x":530,"y":0},{"s":"Fluo","x":550,"y":0},{"s":"Fluo","x":569,"y":0.0011},{"s":"Fluo","x":578,"y":0.0022},{"s":"Fluo","x":584,"y":0.0033},{"s":"Fluo","x":589,"y":0.0055},{"s":"Fluo","x":593,"y":0.0082},{"s":"Fluo","x":598,"y":0.0118},{"s":"Fluo","x":603,"y":0.0154},{"s":"Fluo","x":608,"y":0.0195},{"s":"Fluo","x":612,"y":0.0231},{"s":"Fluo","x":617,"y":0.0268},{"s":"Fluo","x":622,"y":0.0297},{"s":"Fluo","x":627,"y":0.0311},{"s":"Fluo","x":631,"y":0.0315},{"s":"Fluo","x":636,"y":0.0311},{"s":"Fluo","x":640,"y":0.0302},{"s":"Fluo","x":646,"y":0.0286},{"s":"Fluo","x":653,"y":0.025},{"s":"Fluo","x":660,"y":0.022},{"s":"Fluo","x":672,"y":0.017},{"s":"Fluo","x":684,"y":0.0135},{"s":"Fluo","x":696,"y":0.0104},{"s":"Fluo","x":708,"y":0.008},{"s":"Fluo","x":720,"y":0.006},{"s":"Fluo","x":744,"y":0.0027},{"s":"Fluo","x":768,"y":0.0013},{"s":"Fluo","x":800,"y":0.0004}
   ]},
    "mark": {"type": "line", "interpolate": "monotone"},
    "encoding": {
     "x": {"field": "x", "type": "quantitative", "scale": {"domain": [350, 800], "nice": false, "zero": false}, "axis": {"orient": "bottom", "title": "Wavelength / nm", "values": [350, 400, 450, 500, 550, 600, 650, 700, 750, 800], "titlePadding": 2}},
     "y": {"field": "y", "type": "quantitative", "scale": {"domain": [-0.07, 0.035], "nice": false, "zero": false}, "axis": {"orient": "left", "title": "ΔOD", "values": [-0.06, -0.04, -0.02, 0, 0.02], "labelExpr": "datum.value < 0 ? '-' + format(-datum.value, '.2f') : format(datum.value, '.2f')", "titlePadding": 4}},
     "color": {"field": "s", "type": "nominal", "scale": {"domain": ["1 ps", "10 ps", "100 ps", "500 ps", "1250 ps", "2500 ps", "4500 ps", "9500 ps", "Abs", "Fluo"], "range": ["#3b0f5c", "#8466b8", "#6a8ce6", "#2b9cc8", "#1c8a80", "#4fbe5c", "#a6d845", "#fdc828", "#111111", "#111111"]}, "legend": {"title": null, "orient": "none", "legendX": 37, "legendY": 204, "columns": 2, "symbolType": "M-2,0L2,0", "symbolStrokeWidth": 2.5, "symbolSize": 132, "labelFontSize": 16, "rowPadding": 3, "columnPadding": 7, "labelOffset": 8, "padding": 0}},
     "strokeDash": {"field": "s", "type": "nominal", "scale": {"domain": ["1 ps", "10 ps", "100 ps", "500 ps", "1250 ps", "2500 ps", "4500 ps", "9500 ps", "Abs", "Fluo"], "range": [[1, 0], [1, 0], [1, 0], [1, 0], [1, 0], [1, 0], [1, 0], [1, 0], [4, 1.5, 1, 1.5], [5, 4]]}},
     "strokeWidth": {"condition": {"test": "datum.s === 'Abs' || datum.s === 'Fluo'", "value": 1.5}, "value": 2.5}
    }},
   {"data": {"values": [
{"g":"top","i":0,"x":436,"y":0.0305},{"g":"top","i":1,"x":434.5,"y":0.0328},{"g":"top","i":2,"x":431,"y":0.0338},{"g":"top","i":3,"x":427,"y":0.0338},{"g":"top","i":4,"x":423.5,"y":0.0328},{"g":"top","i":5,"x":421.8,"y":0.031},{"g":"top","i":6,"x":421.3,"y":0.0282},
{"g":"bot","i":0,"x":575,"y":-0.0514},{"g":"bot","i":1,"x":579,"y":-0.057},{"g":"bot","i":2,"x":584,"y":-0.0604},{"g":"bot","i":3,"x":590,"y":-0.063},{"g":"bot","i":4,"x":598,"y":-0.0648},{"g":"bot","i":5,"x":606,"y":-0.0657},{"g":"bot","i":6,"x":614.6,"y":-0.0659},{"g":"bot","i":7,"x":622,"y":-0.0652},{"g":"bot","i":8,"x":627.8,"y":-0.0637},{"g":"bot","i":9,"x":631,"y":-0.0618},{"g":"bot","i":10,"x":632.5,"y":-0.059}
   ]},
    "mark": {"type": "line", "color": "#ee1c24", "strokeWidth": 3, "interpolate": "cardinal"},
    "encoding": {
     "x": {"field": "x", "type": "quantitative", "scale": {"domain": [350, 800], "nice": false, "zero": false}, "axis": {"orient": "top", "labels": false, "title": null, "values": [350, 400, 450, 500, 550, 600, 650, 700, 750, 800], "minExtent": 0, "maxExtent": 0}},
     "y": {"field": "y", "type": "quantitative", "scale": {"domain": [-0.07, 0.035], "nice": false, "zero": false}, "axis": {"orient": "right", "labels": false, "title": null, "values": [-0.06, -0.04, -0.02, 0, 0.02], "minExtent": 0, "maxExtent": 0}},
     "detail": {"field": "g", "type": "nominal"},
     "order": {"field": "i", "type": "quantitative"}
    }},
   {"data": {"values": [{"x": 421.3, "y": 0.0262, "sh": "triangle-down"}, {"x": 632.5, "y": -0.0565, "sh": "triangle-up"}]},
    "mark": {"type": "point", "filled": true, "color": "#ee1c24", "opacity": 1, "size": 120},
    "encoding": {
     "x": {"field": "x", "type": "quantitative", "scale": {"domain": [350, 800], "nice": false, "zero": false}, "axis": null},
     "y": {"field": "y", "type": "quantitative", "scale": {"domain": [-0.07, 0.035], "nice": false, "zero": false}, "axis": null},
     "shape": {"field": "sh", "type": "nominal", "scale": {"domain": ["triangle-down", "triangle-up"], "range": ["triangle-down", "triangle-up"]}, "legend": null}
    }},
   {"data": {"values": [{"x": 356.4, "y": 0.029, "txt": "(c)", "k": "b"}, {"x": 451, "y": 0.0287, "txt": "ESA2", "k": "r"}, {"x": 352, "y": 0.0092, "txt": "ESA1", "k": "r"}]},
    "mark": {"type": "text", "fontSize": 16, "align": "left", "baseline": "middle"},
    "encoding": {
     "x": {"field": "x", "type": "quantitative", "scale": {"domain": [350, 800], "nice": false, "zero": false}, "axis": null},
     "y": {"field": "y", "type": "quantitative", "scale": {"domain": [-0.07, 0.035], "nice": false, "zero": false}, "axis": null},
     "text": {"field": "txt"},
     "color": {"condition": {"test": "datum.k === 'r'", "value": "#ee1c24"}, "value": "#111111"}
    }}
  ],
  "resolve": {"axis": {"x": "independent", "y": "independent"}}
 }
]
}
